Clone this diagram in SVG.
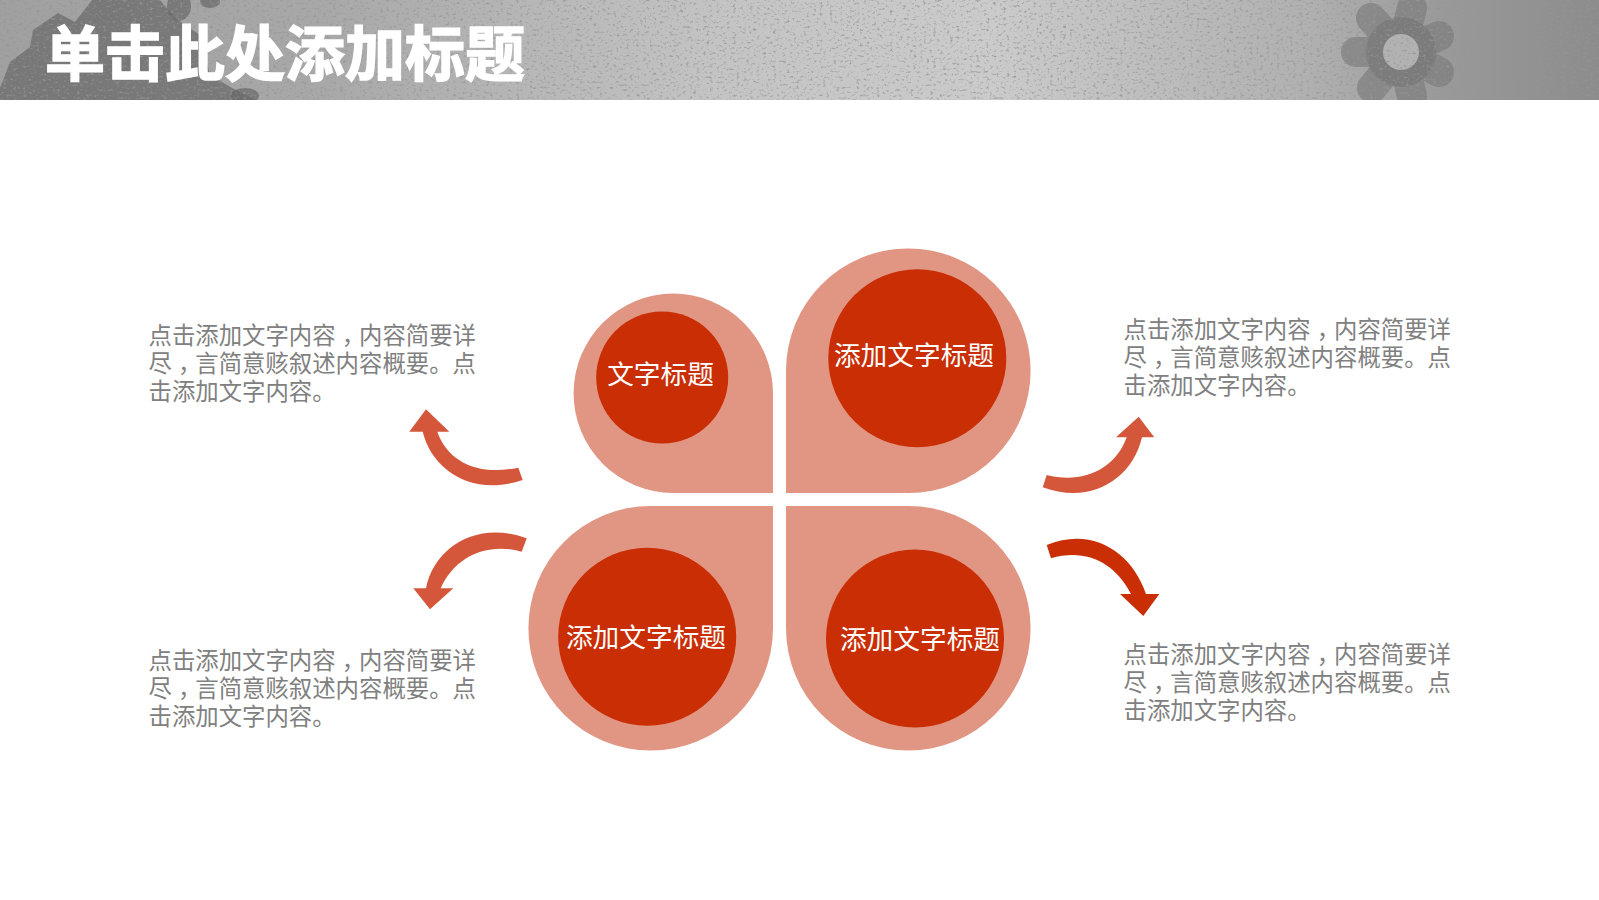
<svg xmlns="http://www.w3.org/2000/svg" width="1599" height="900" viewBox="0 0 1599 900">
<style>
.cjk{font-family:"Noto Sans CJK SC","Noto Sans",sans-serif}
.petal{fill:#e19583}
.core{fill:#c92e05}
.label{font-size:26.7px;fill:#fff;text-anchor:middle}
.para{font-size:23.4px;fill:#808080}
.soft{fill:#d5573b}
.deep{fill:#c92e05}
.dark{fill:#686868;fill-opacity:.72}
.tooth{fill:none;stroke:#7a7a7a;stroke-opacity:.65;stroke-width:30;stroke-linecap:round}
</style>
<defs>
<linearGradient id="hdr" x1="0" y1="0" x2="1" y2="0">
<stop offset="0" stop-color="#a0a0a0"/>
<stop offset=".2" stop-color="#a8a8a8"/>
<stop offset=".45" stop-color="#c4c4c4"/>
<stop offset=".62" stop-color="#cbcbcb"/>
<stop offset=".82" stop-color="#b0b0b0"/>
<stop offset=".9" stop-color="#9a9a9a"/>
<stop offset="1" stop-color="#8c8c8c"/>
</linearGradient>
<clipPath id="hclip"><rect width="1599" height="100"/></clipPath>
<filter id="grain" x="0" y="0" width="100%" height="100%">
<feTurbulence type="fractalNoise" baseFrequency=".3 .38" numOctaves="3" seed="11"/>
<feColorMatrix type="matrix" values="0 0 0 0 .3  0 0 0 0 .3  0 0 0 0 .3  2.8 0 0 0 -1.55"/>
</filter>
</defs>
<rect width="1599" height="900" fill="#fff"/>
<g id="header">
<rect width="1599" height="100" fill="url(#hdr)"/>
<g clip-path="url(#hclip)">
<path class="dark" d="M0,88L10,62L30,47L33,30L58,13L75,22L92,0H160L175,18L200,35L210,75L232,88L255,100H0Z"/>
<ellipse class="dark" cx="179" cy="6" rx="12" ry="15"/>
<ellipse class="dark" cx="210" cy="2" rx="10" ry="6"/>
<ellipse class="dark" cx="245" cy="96" rx="14" ry="8"/>
<path class="tooth" d="M1401,52L1356,52M1401,52L1371,18M1401,52L1412,8M1401,52L1439,36M1401,52L1439,72M1401,52L1372,88M1401,52L1412,96"/>
<circle cx="1401" cy="52" r="35" fill="#6c6c6c" fill-opacity=".4"/>
<circle cx="1401" cy="52" r="18" fill="#b2b2b2"/>
</g>
<rect width="1599" height="100" filter="url(#grain)"/>
<text class="cjk" x="45" y="76" font-size="60" font-weight="700" fill="#fff" stroke="#fff" stroke-width="1.5">单击此处添加标题</text>
</g>
<g id="connectors">
<path class="soft" d="M426,409.3L449.3,431.7H437.3C448,462 478,476 518.3,467.7L522.7,480C472,497 432,470 422.7,431.7H409.3Z"/>
<path class="soft" d="M430,609.3L453.3,588.3H440.7C455,556 488,542 521.7,551.7L526.7,538.3C476,520 434,548 426,588.3H413.3Z"/>
<path class="soft" d="M1138.7,416.7L1154.3,437.3H1142C1132,480 1090,505 1042.7,487.3L1046.7,475C1082,484 1115,470 1126.7,437.3H1116Z"/>
<path class="deep" d="M1046.7,545C1092,526 1132,552 1146,594H1159.3L1143.3,616L1120,594H1131C1115,562 1085,548 1051,558.3Z"/>
</g>
<g id="node-top-left">
<path class="petal" d="M773,493H673A99.7,99.7 0 1 1 773,393Z"/>
<circle class="core" cx="662.2" cy="377.5" r="66"/>
<text class="cjk label" x="660.5" y="384">文字标题</text>
</g>
<g id="node-top-right">
<path class="petal" d="M786,493V370.8A122.3,122.3 0 1 1 908.3,493Z"/>
<circle class="core" cx="917.3" cy="358.2" r="89"/>
<text class="cjk label" x="914" y="365">添加文字标题</text>
</g>
<g id="node-bottom-left">
<path class="petal" d="M773,506V628.2A122.3,122.3 0 1 1 650.7,506Z"/>
<circle class="core" cx="647.2" cy="636.7" r="89"/>
<text class="cjk label" x="646" y="647">添加文字标题</text>
</g>
<g id="node-bottom-right">
<path class="petal" d="M786,506H908.3A122.3,122.3 0 1 1 786,628.2Z"/>
<circle class="core" cx="915" cy="638.5" r="89"/>
<text class="cjk label" x="920" y="649">添加文字标题</text>
</g>
<g id="text-top-left">
<text class="cjk para"><tspan x="148.5" y="344" dx="0 0 0 0 0 0 0 0 6 -6">点击添加文字内容，内容简要详</tspan><tspan x="148.5" y="371.5" dx="0 6 -6">尽，言简意赅叙述内容概要。点</tspan><tspan x="148.5" y="399.5">击添加文字内容。</tspan></text>
</g>
<g id="text-top-right">
<text class="cjk para"><tspan x="1123.5" y="338" dx="0 0 0 0 0 0 0 0 6 -6">点击添加文字内容，内容简要详</tspan><tspan x="1123.5" y="366" dx="0 6 -6">尽，言简意赅叙述内容概要。点</tspan><tspan x="1123.5" y="393.5">击添加文字内容。</tspan></text>
</g>
<g id="text-bottom-left">
<text class="cjk para"><tspan x="148.5" y="669" dx="0 0 0 0 0 0 0 0 6 -6">点击添加文字内容，内容简要详</tspan><tspan x="148.5" y="697" dx="0 6 -6">尽，言简意赅叙述内容概要。点</tspan><tspan x="148.5" y="724.5">击添加文字内容。</tspan></text>
</g>
<g id="text-bottom-right">
<text class="cjk para"><tspan x="1123.5" y="662.5" dx="0 0 0 0 0 0 0 0 6 -6">点击添加文字内容，内容简要详</tspan><tspan x="1123.5" y="690.5" dx="0 6 -6">尽，言简意赅叙述内容概要。点</tspan><tspan x="1123.5" y="718.5">击添加文字内容。</tspan></text>
</g>
</svg>
